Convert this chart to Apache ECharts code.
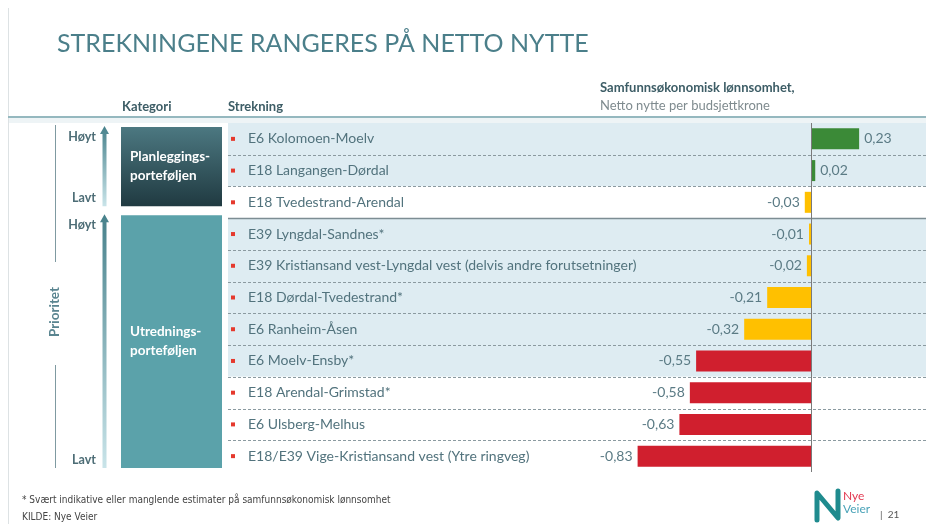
<!DOCTYPE html>
<html>
<head>
<meta charset="utf-8">
<script src="https://cdn.jsdelivr.net/npm/echarts@6/dist/echarts.min.js"></script>
<style>
  html, body { margin: 0; padding: 0; background: #ffffff; }
  #chart { width: 926px; height: 524px; }
</style>
</head>
<body>
<div id="chart"></div>
<script>
// Road projects, ranked top to bottom
const routes = [
  'E6 Kolomoen-Moelv',
  'E18 Langangen-Dørdal',
  'E18 Tvedestrand-Arendal',
  'E39 Lyngdal-Sandnes*',
  'E39 Kristiansand vest-Lyngdal vest (delvis andre forutsetninger)',
  'E18 Dørdal-Tvedestrand*',
  'E6 Ranheim-Åsen',
  'E6 Moelv-Ensby*',
  'E18 Arendal-Grimstad*',
  'E6 Ulsberg-Melhus',
  'E18/E39 Vige-Kristiansand vest (Ytre ringveg)'
];

// Net benefit per budget krone
const netBenefit = [0.23, 0.02, -0.03, -0.01, -0.02, -0.21, -0.32, -0.55, -0.58, -0.63, -0.83];

// Portfolio groups (first and last row index of each)
const portfolioNames = ['Planleggings-\nporteføljen', 'Utrednings-\nporteføljen'];
const portfolioFirst = [0, 3];
const portfolioLast = [2, 10];

// Row shading (true = light blue band)
const shadedRows = [true, true, false, true, true, true, true, true, false, false, false];

const FONT = 'Lato, "Open Sans", sans-serif';
const GREEN = '#3b8a37', YELLOW = '#ffc000', RED = '#d01f2e';
const BAND = '#deecf2';

function barColor(v) {
  if (v > 0) return GREEN;
  if (v > -0.4) return YELLOW;
  return RED;
}
function fmt(v) { return v.toFixed(2).replace('.', ','); }

const chart = echarts.init(document.getElementById('chart'), null, { renderer: 'canvas' });

const option = {
  backgroundColor: '#ffffff',
  animation: false,
  textStyle: { fontFamily: FONT },
  grid: { left: 228, right: 0, top: 123, bottom: 52, containLabel: false },
  xAxis: {
    type: 'value',
    min: -2.79,
    max: 0.55,
    show: false
  },
  yAxis: {
    type: 'category',
    inverse: true,
    data: routes,
    axisLine: { show: false },
    axisTick: { show: false },
    splitLine: { show: false },
    splitArea: {
      show: true,
      areaStyle: { color: shadedRows.map(s => s ? BAND : '#ffffff') }
    },
    axisLabel: {
      inside: true,
      margin: 3,
      formatter: v => '{b|}{t|' + v + '}',
      rich: {
        b: { width: 4, height: 4, backgroundColor: '#e5392d', padding: 0, verticalAlign: 'middle' },
        t: { fontSize: 14, color: '#52737d', fontFamily: FONT, padding: [0, 0, 0, 13] }
      }
    },
    z: 1
  },
  series: [{
    type: 'bar',
    barWidth: 21,
    data: netBenefit.map(v => ({
      value: v,
      itemStyle: { color: barColor(v) },
      label: { position: v >= 0 ? 'right' : 'left' }
    })),
    label: {
      show: true,
      distance: 5,
      fontSize: 14,
      color: '#5b7b85',
      fontFamily: FONT,
      formatter: p => fmt(p.value)
    },
    markLine: {
      silent: true,
      symbol: 'none',
      label: { show: false },
      lineStyle: { color: '#7a7a7a', width: 1, type: 'solid' },
      data: [{ xAxis: 0 }]
    },
    z: 3
  }]
};

chart.setOption(option);

// Decorations placed from the row positions of the category axis
function rowCenter(i) { return chart.convertToPixel({ yAxisIndex: 0 }, i); }
const half = (rowCenter(1) - rowCenter(0)) / 2;
const rowTop = i => rowCenter(i) - half;
const rowBottom = i => rowCenter(i) + half;

const g = [];
const W = 926;

// slide border and header rule
g.push({ type: 'line', shape: { x1: 8.5, y1: 8, x2: 8.5, y2: 524 }, style: { stroke: '#dde2e4', lineWidth: 1 }, silent: true });
g.push({ type: 'rect', shape: { x: 9, y: 118, width: W - 9, height: rowTop(0) - 118 }, style: { fill: '#eef4f6' }, silent: true });
g.push({ type: 'line', shape: { x1: 8, y1: 117, x2: W, y2: 117 }, style: { stroke: '#95b8bf', lineWidth: 2 }, silent: true });

// title
g.push({ type: 'text', left: 57, top: 31, style: { text: 'STREKNINGENE RANGERES PÅ NETTO NYTTE', font: 'normal 25px ' + FONT, fill: '#4b7f8a' }, silent: true });

// column headers
const headFont = 'bold 13px ' + FONT;
g.push({ type: 'text', left: 122, top: 100, style: { text: 'Kategori', font: headFont, fill: '#3d5d66' }, silent: true });
g.push({ type: 'text', left: 228, top: 100, style: { text: 'Strekning', font: headFont, fill: '#3d5d66' }, silent: true });
g.push({ type: 'text', left: 600, top: 81, style: { text: 'Samfunnsøkonomisk lønnsomhet,', font: headFont, fill: '#3d5d66' }, silent: true });
g.push({ type: 'text', left: 600, top: 99, style: { text: 'Netto nytte per budsjettkrone', font: '13px ' + FONT, fill: '#7f8b8f' }, silent: true });

// row separators
for (let i = 1; i < routes.length; i++) {
  const y = Math.round(rowTop(i)) + 0.5;
  const solid = portfolioFirst.indexOf(i) > 0;
  g.push({
    type: 'line', z: 2,
    shape: { x1: 228, y1: y, x2: W, y2: y },
    style: { stroke: solid ? '#7d8d93' : '#8b9aa0', lineWidth: solid ? 1.5 : 1, lineDash: solid ? null : [3, 2] },
    silent: true
  });
}

// portfolio boxes, priority arrows, Høyt/Lavt
portfolioNames.forEach((name, k) => {
  const y0 = k === 0 ? rowTop(portfolioFirst[k]) + 4 : rowTop(portfolioFirst[k]) - 3;
  const y1 = k === 0 ? rowBottom(portfolioLast[k]) - 12 : rowBottom(portfolioLast[k]) - 4;
  const fill = k === 0
    ? new echarts.graphic.LinearGradient(0, 0, 0, 1, [{ offset: 0, color: '#4c7881' }, { offset: 1, color: '#203a41' }])
    : '#5ba2aa';
  g.push({ type: 'rect', shape: { x: 121, y: y0, width: 101, height: y1 - y0 }, style: { fill }, silent: true });
  g.push({
    type: 'text', x: 130, y: (y0 + y1) / 2,
    style: { text: name, font: 'bold 13.5px ' + FONT, fill: '#ffffff', verticalAlign: 'middle', lineHeight: 19 },
    silent: true
  });
  const ax = 104.5;
  const ay0 = y0 - 1, ay1 = y1;
  g.push({
    type: 'polygon',
    shape: { points: [[ax, ay0], [ax + 4.5, ay0 + 8], [ax + 2, ay0 + 8], [ax + 2, ay1], [ax - 2, ay1], [ax - 2, ay0 + 8], [ax - 4.5, ay0 + 8]] },
    style: { fill: new echarts.graphic.LinearGradient(0, 0, 0, 1, [{ offset: 0, color: '#47818b' }, { offset: 1, color: '#c9e4e9' }]) },
    silent: true
  });
  g.push({ type: 'text', x: 96, y: ay0 + 11, style: { text: 'Høyt', font: 'bold 12.5px ' + FONT, fill: '#4d6d76', align: 'right', verticalAlign: 'middle' }, silent: true });
  g.push({ type: 'text', x: 96, y: ay1 - 8, style: { text: 'Lavt', font: 'bold 12.5px ' + FONT, fill: '#4d6d76', align: 'right', verticalAlign: 'middle' }, silent: true });
});

// Prioritet axis
g.push({ type: 'line', shape: { x1: 55.5, y1: 125, x2: 55.5, y2: 262 }, style: { stroke: '#7f9aa1', lineWidth: 1 }, silent: true });
g.push({ type: 'line', shape: { x1: 55.5, y1: 365, x2: 55.5, y2: 468 }, style: { stroke: '#7f9aa1', lineWidth: 1 }, silent: true });
g.push({ type: 'text', x: 55, y: 312, rotation: Math.PI / 2, style: { text: 'Prioritet', font: 'bold 13.5px ' + FONT, fill: '#5a8590', align: 'center', verticalAlign: 'middle' }, silent: true });

// footer
const noteFont = '10px "Liberation Sans Narrow", "DejaVu Sans Condensed", ' + FONT;
g.push({ type: 'text', left: 22, top: 495, style: { text: '* Svært indikative eller manglende estimater på samfunnsøkonomisk lønnsomhet', font: noteFont, fill: '#444444' }, silent: true });
g.push({ type: 'text', left: 22, top: 512, style: { text: 'KILDE: Nye Veier', font: noteFont, fill: '#444444' }, silent: true });

// logo
g.push({
  type: 'polyline',
  shape: { points: [[817, 520], [817, 493], [838, 518], [838, 491]] },
  style: { stroke: '#1f8b8e', lineWidth: 5, lineJoin: 'round', lineCap: 'round', fill: null },
  silent: true
});
g.push({ type: 'text', left: 843, top: 490, style: { text: 'Nye', font: '12px ' + FONT, fill: '#e23a52' }, silent: true });
g.push({ type: 'text', left: 843, top: 503, style: { text: 'Veier', font: '12px ' + FONT, fill: '#4aa3b8' }, silent: true });
g.push({ type: 'text', left: 880, top: 510, style: { text: '|  21', font: '10px ' + FONT, fill: '#555555' }, silent: true });

chart.setOption({ graphic: g });
</script>
</body>
</html>
